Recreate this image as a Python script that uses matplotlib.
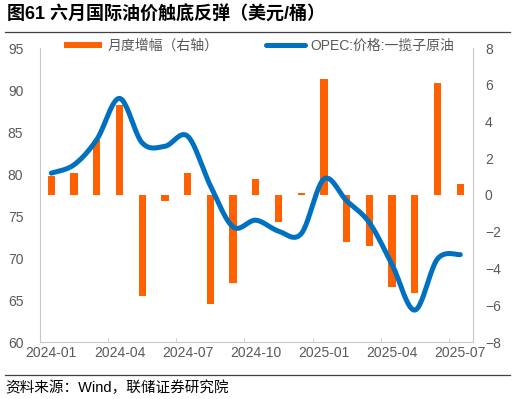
import matplotlib
matplotlib.use('Agg')
import matplotlib.pyplot as plt
from matplotlib.lines import Line2D
import numpy as np

plt.rcParams['font.family'] = ['Liberation Sans', 'Noto Sans CJK SC']

months = ['2024-01', '2024-02', '2024-03', '2024-04', '2024-05', '2024-06',
          '2024-07', '2024-08', '2024-09', '2024-10', '2024-11', '2024-12',
          '2025-01', '2025-02', '2025-03', '2025-04', '2025-05', '2025-06', '2025-07']
tick_labels = ['2024-01', '2024-04', '2024-07', '2024-10', '2025-01', '2025-04', '2025-07']

opec_price = [80.1, 81.1, 84.1, 89.0, 83.7, 83.3, 84.5, 78.6, 73.7, 74.5, 73.2, 72.9,
              79.4, 76.8, 74.2, 69.2, 63.8, 69.9, 70.4]
monthly_change = [1.03, 1.18, 2.99, 4.9, -5.5, -0.33, 1.18, -5.93, -4.77, 0.87, -1.45, 0.13,
                  6.3, -2.54, -2.78, -4.99, -5.32, 6.11, 0.58]

orange = '#FF6000'
blue = '#0070C0'
grey = '#595959'
axis_grey = '#c8c8c8'


def smooth(x, y, n=24):
    # bezier curve through the points, like a spreadsheet's smoothed line
    x = np.asarray(x, float)
    y = np.asarray(y, float)
    xs, ys = [], []
    t = np.linspace(0, 1, n)
    for i in range(len(x) - 1):
        a = i - 1 if i > 0 else i
        b = i + 2 if i + 2 < len(x) else i + 1
        c1 = (x[i] + (x[i + 1] - x[a]) / 6, y[i] + (y[i + 1] - y[a]) / 6)
        c2 = (x[i + 1] - (x[b] - x[i]) / 6, y[i + 1] - (y[b] - y[i]) / 6)
        for k, (p0, p1, p2, p3) in enumerate([(x[i], c1[0], c2[0], x[i + 1]),
                                              (y[i], c1[1], c2[1], y[i + 1])]):
            seg = (1 - t) ** 3 * p0 + 3 * (1 - t) ** 2 * t * p1 + 3 * (1 - t) * t ** 2 * p2 + t ** 3 * p3
            (xs if k == 0 else ys).extend(seg[:-1] if i < len(x) - 2 else seg)
    return np.array(xs), np.array(ys)


fig = plt.figure(figsize=(5.15, 3.99), dpi=100)
ax = fig.add_axes([40 / 515, 1 - 342 / 399, 433 / 515, 294 / 399])
ax2 = ax.twinx()

pos = np.arange(len(months))
ax2.bar(pos, monthly_change, width=0.32, color=orange)
sx, sy = smooth(pos, opec_price)
ax.plot(sx, sy, color=blue, lw=3.6, solid_capstyle='round')

ax.set_zorder(ax2.get_zorder() + 1)
ax.patch.set_visible(False)

ax.set_xlim(-0.5, 18.56)
ax.set_ylim(60, 95)
ax.set_yticks(range(60, 96, 5))
ax2.set_ylim(-8, 8)
ax2.set_yticks(range(-8, 9, 2))

ax.set_xticks(range(0, 19, 3))
ax.set_xticklabels(tick_labels)
ax.set_xticks(np.arange(-0.5, 18, 3), minor=True)
ax.tick_params(axis='x', which='major', length=0, pad=3, labelsize=10, labelcolor=grey)
ax.tick_params(axis='x', which='minor', direction='in', length=3, color=axis_grey)
ax.tick_params(axis='y', which='major', length=0, pad=12, labelsize=10, labelcolor=grey)
ax.set_yticks([95], minor=True)
ax.tick_params(axis='y', which='minor', length=4, color=axis_grey)
ax2.tick_params(axis='y', which='major', length=0, pad=8.6, labelsize=10, labelcolor=grey)
ax2.set_yticks([8], minor=True)
ax2.tick_params(axis='y', which='minor', length=4, color=axis_grey)

for s in ['top', 'right']:
    ax.spines[s].set_visible(False)
for s in ['top', 'left', 'bottom']:
    ax2.spines[s].set_visible(False)
ax.spines['left'].set_color(axis_grey)
ax.spines['bottom'].set_color(axis_grey)
ax2.spines['right'].set_color(axis_grey)

handles = [Line2D([], [], color=orange, lw=4.3, solid_capstyle='butt'),
           Line2D([], [], color=blue, lw=3.6, solid_capstyle='round')]
fig.legend(handles, ['月度增幅（右轴）', 'OPEC:价格:一揽子原油'], loc='center',
           bbox_to_anchor=(0.503, 1 - 46 / 399), ncol=2, frameon=False,
           handlelength=2.8, handletextpad=0.4, columnspacing=3.4,
           fontsize=10, labelcolor=grey)

fig.text(7 / 515, 1 - 15 / 399, '图61 六月国际油价触底反弹（美元/桶）',
         fontsize=13, fontweight='bold', va='center', ha='left')
fig.add_artist(Line2D([5 / 515, 510 / 515], [1 - 32 / 399] * 2, color='#404040', lw=0.9))
fig.add_artist(Line2D([5 / 515, 510 / 515], [1 - 375 / 399] * 2, color='#404040', lw=0.9))
fig.text(5 / 515, 1 - 388 / 399, '资料来源：Wind，联储证券研究院',
         fontsize=10.5, va='center', ha='left')

fig.savefig('out.png', dpi=100)
